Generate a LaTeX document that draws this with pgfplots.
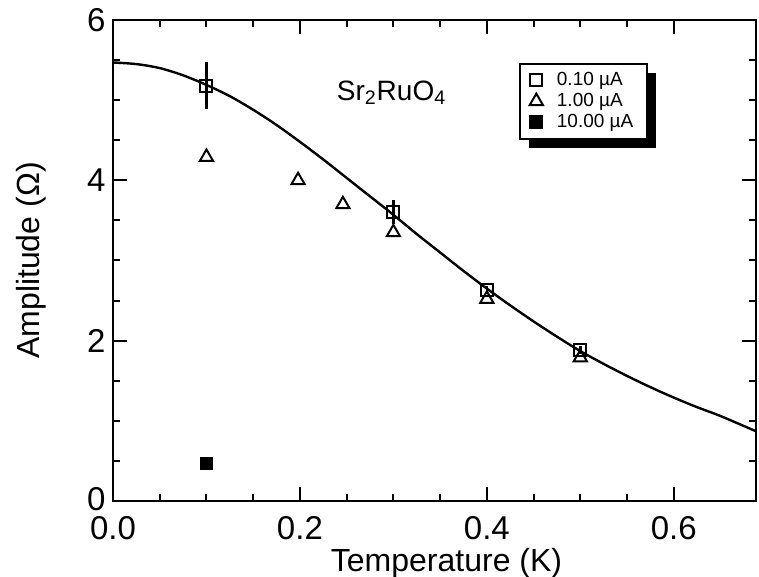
\documentclass[border=0pt]{standalone}
\usepackage{pgfplots}
\pgfplotsset{compat=1.18}
\usepackage{fontspec}
\setmainfont{Liberation Sans}
\usetikzlibrary{shadows}
\begin{document}
\begin{tikzpicture}
\begin{axis}[
  scale only axis, width=321.5pt, height=240.5pt,
  xmin=0, xmax=0.688, ymin=0, ymax=6,
  xtick={0,0.2,0.4,0.6}, ytick={0,2,4,6},
  xticklabels={0.0,0.2,0.4,0.6}, yticklabels={\raisebox{2.5pt}{0},2,4,6},
  minor x tick num=3, minor y tick num=3,
  tick align=inside, major tick length=7pt, minor tick length=3.5pt,
  axis line style={line width=1.3pt},
  every tick/.style={black, line width=1pt},
  tick label style={font=\fontsize{16.5}{20}\selectfont, inner sep=1pt},
  xticklabel shift=6.5pt, yticklabel shift=2.5pt,
  label style={font=\fontsize{16}{19}\selectfont},
  xlabel={Temperature (K)}, ylabel={Amplitude (Ω)},
  xlabel style={xshift=6pt, yshift=0.5pt},
  ylabel style={yshift=16pt},
  legend cell align=left,
  legend style={at={(rel axis cs:0.631,0.911)}, anchor=north west,
    draw=black, line width=1pt, fill=white,
    font=\fontsize{9.5}{11}\selectfont,
    inner xsep=5pt, inner ysep=2pt,
    drop shadow={shadow xshift=4.5pt, shadow yshift=-4.5pt, fill=black, opacity=1},
    row sep=-1.5pt,
    /tikz/every odd column/.append style={column sep=5pt}},
]
\addplot[black, line width=1.2pt, smooth, forget plot] coordinates {
 (0,5.47) (0.025,5.45) (0.05,5.40) (0.075,5.31) (0.1,5.19) (0.125,5.05)
 (0.15,4.88) (0.175,4.69) (0.2,4.48) (0.225,4.26) (0.25,4.03) (0.275,3.80)
 (0.3,3.57) (0.325,3.33) (0.35,3.10) (0.375,2.87) (0.4,2.65) (0.425,2.44)
 (0.45,2.24) (0.475,2.05) (0.5,1.87) (0.525,1.71) (0.55,1.56) (0.575,1.42)
 (0.6,1.29) (0.625,1.17) (0.65,1.06) (0.688,0.87)};
\addplot[black, only marks, mark=square, mark size=3pt,
  mark options={fill=white, line width=1pt},
  error bars/.cd, y dir=both, y explicit,
  error bar style={line width=1.2pt}, error mark=none]
  coordinates {
 (0.1,5.18) +- (0,0.29)
 (0.3,3.60) +- (0,0.15)
 (0.4,2.63) +- (0,0.05)
 (0.5,1.88) +- (0,0.05)};
\addlegendentry{0.10 µA}
\addplot[black, only marks, mark=triangle, mark size=3.8pt,
  mark options={line width=1pt}]
  coordinates {
 (0.1,4.29) (0.198,4.00) (0.246,3.70) (0.3,3.35) (0.4,2.52) (0.5,1.79)};
\addlegendentry{1.00 µA}
\addplot[black, only marks, mark=square*, mark size=3pt]
  coordinates {(0.1,0.47)};
\addlegendentry{10.00 µA}
\node[font=\fontsize{14}{16}\selectfont] at (axis cs:0.298,5.09) {Sr\textsubscript{2}RuO\textsubscript{4}};
\end{axis}
\pgfresetboundingbox
\path ([xshift=-56.5pt,yshift=-38pt]current axis.south west) rectangle ([xshift=1.5pt,yshift=10pt]current axis.north east);
\end{tikzpicture}
\end{document}
